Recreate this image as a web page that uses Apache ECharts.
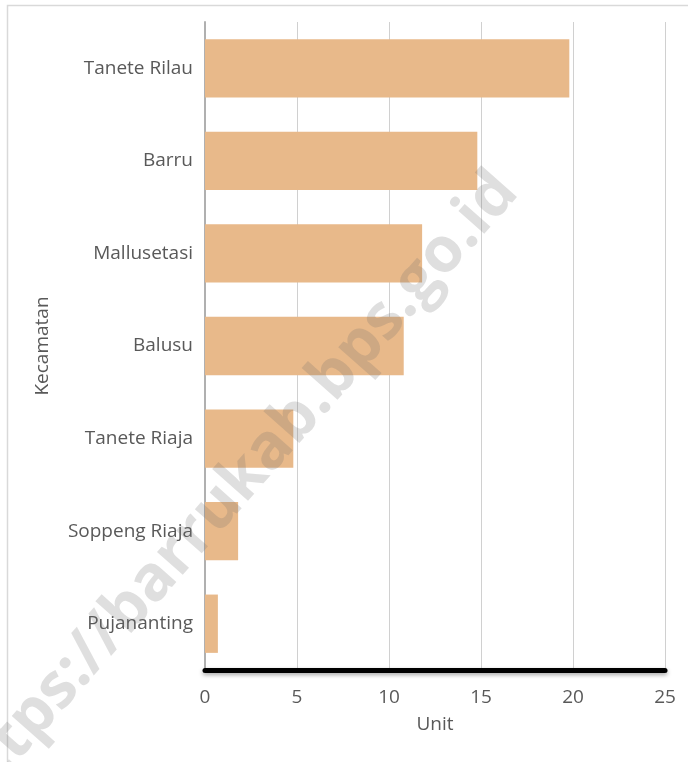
<!DOCTYPE html>
<html>
<head>
<meta charset="utf-8">
<script src="https://cdn.jsdelivr.net/npm/echarts@6/dist/echarts.min.js"></script>
<style>
html,body{margin:0;padding:0;background:#fff;}
#c{width:688px;height:762px;}
</style>
</head>
<body>
<div id="c"></div>
<script>
const categories = ["Tanete Rilau", "Barru", "Mallusetasi", "Balusu", "Tanete Riaja", "Soppeng Riaja", "Pujananting"];
const values = [19.8, 14.8, 11.8, 10.8, 4.8, 1.8, 0.7];
const xTicks = [0, 5, 10, 15, 20, 25];
const xTitle = "Unit";
const yTitle = "Kecamatan";
const watermark = "https://barrukab.bps.go.id";

const chart = echarts.init(document.getElementById('c'), null, {renderer: 'canvas'});
const font = '"Open Sans", "Noto Sans", sans-serif';
chart.setOption({
  animation: false,
  backgroundColor: '#fff',
  grid: {left: 205, right: 23, top: 22, bottom: 92},
  xAxis: {
    type: 'value',
    min: xTicks[0], max: xTicks[xTicks.length - 1], interval: 5,
    name: xTitle, nameLocation: 'middle', nameGap: 45,
    nameTextStyle: {color: '#595959', fontSize: 19, fontFamily: font},
    axisLine: {show: true, lineStyle: {color: '#000', width: 5, shadowColor: 'rgba(0,0,0,0.35)', shadowBlur: 4, shadowOffsetY: 2}},
    axisTick: {show: false},
    axisLabel: {color: '#595959', fontSize: 19, fontFamily: font, margin: 18},
    splitLine: {show: true, lineStyle: {color: '#d0d0d0', width: 1}}
  },
  yAxis: {
    type: 'category',
    data: categories,
    inverse: true,
    name: yTitle, nameLocation: 'middle', nameGap: 153, nameRotate: 90,
    nameTextStyle: {color: '#595959', fontSize: 19, fontFamily: font},
    axisLine: {show: true, lineStyle: {color: '#b0b0b0', width: 2}},
    axisTick: {show: false},
    axisLabel: {color: '#595959', fontSize: 19, fontFamily: font, margin: 12}
  },
  series: [{
    type: 'bar',
    data: values,
    barCategoryGap: '37%',
    itemStyle: {color: '#E8B98A'}
  }],
  graphic: [
    {type: 'rect', left: 5, top: 3, shape: {width: 720, height: 800}, style: {fill: 'none', stroke: '#d9d9d9', lineWidth: 1.5}, z: -1, silent: true},
    {type: 'text', x: 232, y: 492, rotation: 48.5 * Math.PI / 180, z: 100,
     style: {text: watermark, fill: 'rgba(110,110,110,0.22)', font: 'bold 63px "Open Sans", sans-serif', align: 'center', verticalAlign: 'middle'}}
  ]
});
</script>
</body>
</html>
